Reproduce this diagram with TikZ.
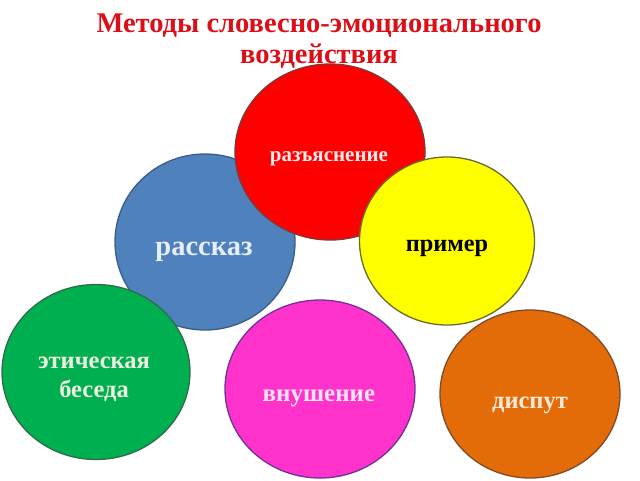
\documentclass[tikz,border=0pt]{standalone}
\usepackage{fontspec}
\setmainfont{Liberation Serif}
\usetikzlibrary{shapes.geometric}
\definecolor{titlered}{HTML}{DC0F18}
\definecolor{cred}{HTML}{FF0000}
\definecolor{credline}{HTML}{7A3B3B}
\definecolor{cblue}{HTML}{4F81BD}
\definecolor{cblueline}{HTML}{385D8A}
\definecolor{cyellow}{HTML}{FFFF00}
\definecolor{cyellowline}{HTML}{6B6B2E}
\definecolor{cgreen}{HTML}{00B050}
\definecolor{cgreenline}{HTML}{2E6B4A}
\definecolor{cmag}{HTML}{FF33CC}
\definecolor{cmagline}{HTML}{7030A0}
\definecolor{corange}{HTML}{E36C09}
\definecolor{corangeline}{HTML}{7F4B2A}
\definecolor{tblue}{HTML}{E6EEF8}
\definecolor{tred}{HTML}{FBEAEA}
\definecolor{tgreen}{HTML}{EBF1DE}
\definecolor{tmag}{HTML}{FBE3F3}
\definecolor{torange}{HTML}{FDE9D9}
\tikzset{
  blob/.style={ellipse, draw, line width=1.3pt, inner sep=0pt},
  lbl/.style={anchor=base, inner sep=0pt, align=center},
}
\begin{document}
\begin{tikzpicture}[x=1pt,y=-1pt]
\useasboundingbox (0,0) rectangle (640,480);
% title
\node[font=\bfseries\fontsize{28.5}{31}\selectfont, text=titlered, align=center, anchor=base, inner sep=0pt]
  (title) at (319,63) {Методы словесно-эмоционального\\воздействия};
% circles
\node[blob, fill=cblue, draw=cblueline, minimum width=180pt, minimum height=176pt] (rasskaz) at (205,242) {};
\node[lbl, text=tblue, font=\bfseries\fontsize{28.5}{30}\selectfont] (trasskaz) at (204,255) {рассказ};
\node[blob, fill=cred, draw=credline, minimum width=190pt, minimum height=176pt] (razyasn) at (330,152) {};
\node[lbl, text=tred, font=\bfseries\fontsize{21}{24}\selectfont] (trazyasn) at (329,161) {разъяснение};
\node[blob, fill=cyellow, draw=cyellowline, minimum width=175pt, minimum height=168pt] (primer) at (447,241) {};
\node[lbl, text=black, font=\bfseries\fontsize{24.3}{26}\selectfont] (tprimer) at (447,251) {пример};
\node[blob, fill=cgreen, draw=cgreenline, minimum width=188pt, minimum height=175pt] (etich) at (96,372) {};
\node[lbl, text=tgreen, font=\bfseries\fontsize{24.5}{29}\selectfont] (tetich) at (94,397) {этическая\\беседа};
\node[blob, fill=cmag, draw=cmagline, minimum width=190pt, minimum height=178pt] (vnush) at (320,389) {};
\node[lbl, text=tmag, font=\bfseries\fontsize{25}{28}\selectfont] (tvnush) at (319,401) {внушение};
\node[blob, fill=corange, draw=corangeline, minimum width=180pt, minimum height=168pt] (disput) at (530,394) {};
\node[lbl, text=torange, font=\bfseries\fontsize{24.5}{28}\selectfont] (tdisput) at (530,408) {диспут};
\end{tikzpicture}
\end{document}
